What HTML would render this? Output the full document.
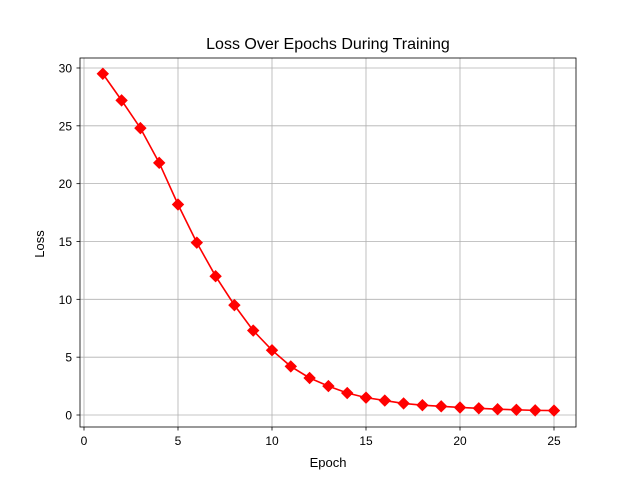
<!DOCTYPE html>
<html><head><meta charset="utf-8"><style>body{margin:0;background:#fff}svg{display:block;font-family:"Liberation Sans","DejaVu Sans",sans-serif}</style></head>
<body>
<svg id="chart" width="640" height="480">
<rect x="0" y="0" width="640" height="480" fill="#fff"/>
<g id="grid"></g>
<g id="ticks"></g>
<g id="series"></g>
<rect x="80" y="58" width="496" height="369" fill="none" stroke="#000" stroke-width="0.8"/>
<text x="328" y="49" text-anchor="middle" font-size="16">Loss Over Epochs During Training</text>
<text x="328" y="467" text-anchor="middle" font-size="13">Epoch</text>
<text x="44" y="244" text-anchor="middle" font-size="13" transform="rotate(-90 44 244)">Loss</text>
</svg>
<script>
const epochs=[1,2,3,4,5,6,7,8,9,10,11,12,13,14,15,16,17,18,19,20,21,22,23,24,25];
const losses=[29.5,27.2,24.8,21.8,18.2,14.9,12.0,9.5,7.3,5.6,4.2,3.2,2.5,1.9,1.5,1.25,1.0,0.85,0.75,0.65,0.58,0.5,0.45,0.4,0.38];
const xTicks=[0,5,10,15,20,25];
const yTicks=[0,5,10,15,20,25,30];
const NS="http://www.w3.org/2000/svg";
const xs=v=>84+v*18.8;
const ys=v=>415-v*11.567;
function mk(t,a,p){const e=document.createElementNS(NS,t);for(const k in a)e.setAttribute(k,a[k]);p.appendChild(e);return e;}
const g=document.getElementById('grid'),tk=document.getElementById('ticks'),s=document.getElementById('series');
xTicks.forEach(v=>{const x=xs(v);
const l=mk('line',{x1:x,x2:x,y1:58,y2:427,stroke:'#b0b0b0','stroke-width':0.8},g);


mk('line',{x1:x,x2:x,y1:427,y2:430.5,stroke:'#000','stroke-width':0.8},tk);
const t=mk('text',{x:x,y:445,'text-anchor':'middle','font-size':12},tk);t.textContent=v;

});
yTicks.forEach(v=>{const y=ys(v);
const l=mk('line',{x1:80,x2:576,y1:y,y2:y,stroke:'#b0b0b0','stroke-width':0.8},g);


mk('line',{x1:76.5,x2:80,y1:y,y2:y,stroke:'#000','stroke-width':0.8},tk);
const t=mk('text',{x:72,y:y+4.5,'text-anchor':'end','font-size':12},tk);t.textContent=v;

});
const pts=epochs.map((e,i)=>xs(e)+','+ys(losses[i])).join(' ');
const pl=mk('polyline',{points:pts,fill:'none',stroke:'#f00','stroke-width':1.6},s);


epochs.forEach((e,i)=>{const x=xs(e),y=ys(losses[i]),r=5.5;
const m=mk('polygon',{points:`${x},${y-r} ${x+r},${y} ${x},${y+r} ${x-r},${y}`,fill:'#f00',stroke:'#f00'},s);

});
</script>
</body></html>
